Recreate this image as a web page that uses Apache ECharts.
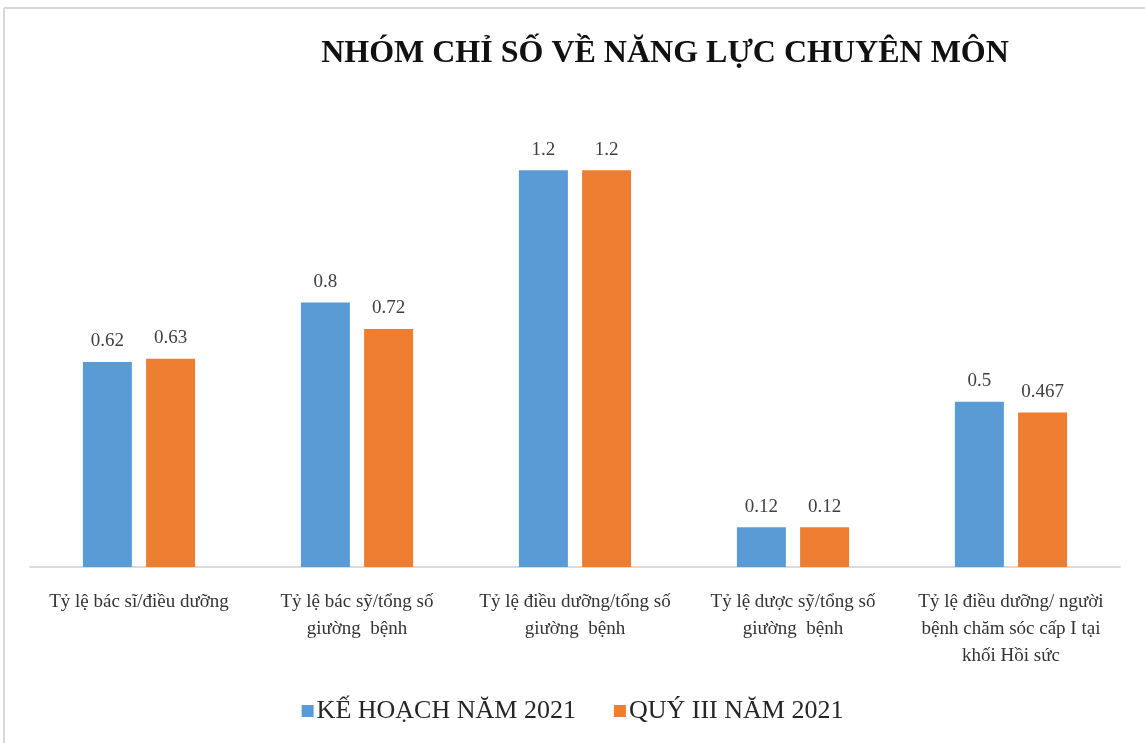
<!DOCTYPE html>
<html>
<head>
<meta charset="utf-8">
<script src="https://cdn.jsdelivr.net/npm/echarts@6/dist/echarts.min.js"></script>
<style>
html,body{margin:0;padding:0;background:#fff;}
#chart{width:1145px;height:743px;}
</style>
</head>
<body>
<div id="chart"></div>
<script>
const titleText = 'NHÓM CHỈ SỐ VỀ NĂNG LỰC CHUYÊN MÔN';
const categories = [
  'Tỷ lệ bác sĩ/điều dưỡng',
  'Tỷ lệ bác sỹ/tổng số\ngiường  bệnh',
  'Tỷ lệ điều dưỡng/tổng số\ngiường  bệnh',
  'Tỷ lệ dược sỹ/tổng số\ngiường  bệnh',
  'Tỷ lệ điều dưỡng/ người\nbệnh chăm sóc cấp I tại\nkhối Hồi sức'
];
const seriesNames = ['KẾ HOẠCH NĂM 2021', 'QUÝ III NĂM 2021'];
const planValues = [0.62, 0.8, 1.2, 0.12, 0.5];
const q3Values = [0.63, 0.72, 1.2, 0.12, 0.467];

const serif = '"Liberation Serif", "DejaVu Serif", serif';
const chart = echarts.init(document.getElementById('chart'));
const labelCfg = {
  show: true, position: 'top', distance: 11,
  fontFamily: serif, fontSize: 19, color: '#404040'
};
chart.setOption({
  animation: false,
  backgroundColor: '#fff',
  title: {
    text: titleText,
    left: 660, top: 33, textAlign: 'center',
    textStyle: { fontFamily: serif, fontWeight: 'bold', fontSize: 32, color: '#111' }
  },
  legend: {
    top: 693, left: 'center',
    itemWidth: 12, itemHeight: 12, itemGap: 38,
    icon: 'rect',
    textStyle: { fontFamily: serif, fontSize: 26, color: '#262626', padding: [0, 0, 0, -2] },
    data: seriesNames
  },
  grid: { left: 30, right: 25, top: 104, bottom: 176, containLabel: false },
  xAxis: {
    type: 'category',
    data: categories,
    axisLine: { show: true, lineStyle: { color: '#d0d0d0', width: 1.5 } },
    axisTick: { show: false },
    axisLabel: {
      interval: 0, margin: 22, lineHeight: 27,
      fontFamily: serif, fontSize: 19, color: '#333'
    }
  },
  yAxis: {
    type: 'value', min: 0, max: 1.4, interval: 0.2,
    show: false,
    splitLine: { show: false }
  },
  series: [
    {
      name: seriesNames[0], type: 'bar', data: planValues,
      barWidth: 49, barGap: '29%',
      itemStyle: { color: '#5B9BD5' },
      label: labelCfg
    },
    {
      name: seriesNames[1], type: 'bar', data: q3Values,
      barWidth: 49,
      itemStyle: { color: '#ED7D31' },
      label: labelCfg
    }
  ],
  graphic: [
    { type: 'line', shape: { x1: 4, y1: 8, x2: 1145, y2: 8 }, style: { stroke: '#d8d8d8', lineWidth: 2 } },
    { type: 'line', shape: { x1: 4, y1: 8, x2: 4, y2: 743 }, style: { stroke: '#d8d8d8', lineWidth: 2 } }
  ]
});
</script>
</body>
</html>
